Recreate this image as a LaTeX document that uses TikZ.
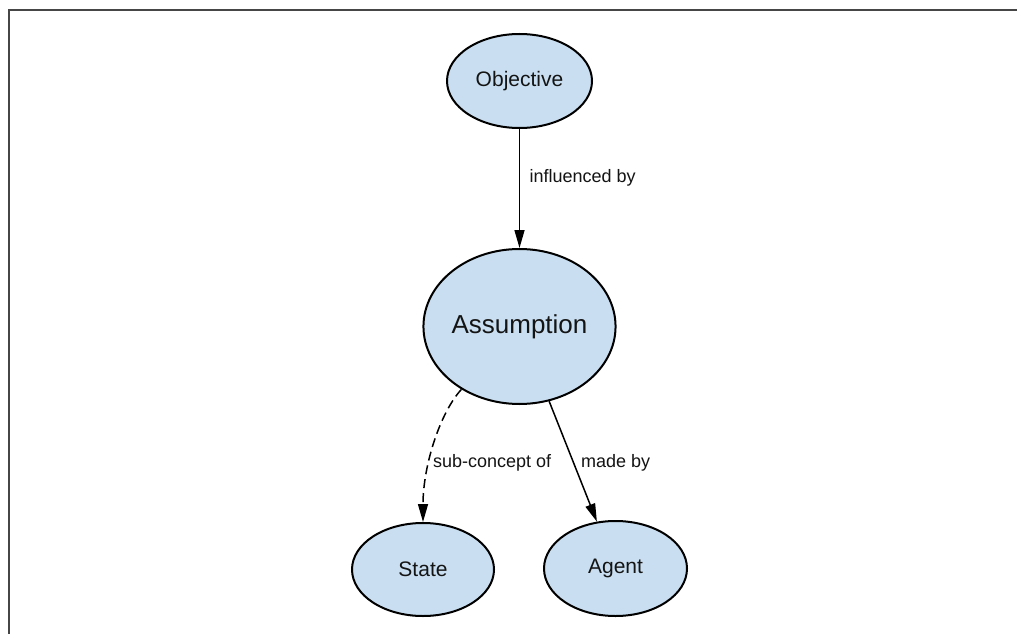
\documentclass[tikz,border=0pt]{standalone}
\usepackage{fontspec}
\setmainfont{Liberation Sans}
\usetikzlibrary{shapes.geometric,arrows.meta}
\definecolor{nodefill}{RGB}{201,223,241}
\definecolor{framecol}{RGB}{70,70,70}
\definecolor{inkcol}{RGB}{20,20,20}
\tikzset{
  concept/.style={ellipse, draw=black, line width=2pt, fill=nodefill, inner sep=0pt, text=inkcol},
  rel/.style={draw=black, line width=1.5pt, -{Triangle[length=18pt,width=10pt]}},
  rellabel/.style={anchor=west, inner sep=0pt, text=inkcol, font=\fontsize{18}{20}\selectfont},
}
\begin{document}
\begin{tikzpicture}[x=1pt,y=-1pt]
\useasboundingbox (0,0) rectangle (1017,634);
\fill[white] (0,0) rectangle (1017,634);
\draw[framecol, line width=2pt] (9,634) -- (9,10.5) -- (1017,10.5);

\node[concept, minimum width=145pt, minimum height=94pt, font=\fontsize{21}{24}\selectfont] (O) at (519.5,81) {Objective};
\node[concept, minimum width=189pt, minimum height=155pt, font=\fontsize{26}{30}\selectfont] (A) at (519.5,326.5) {Assumption};
\node[concept, minimum width=142pt, minimum height=93pt, font=\fontsize{21}{24}\selectfont] (S) at (423,569.5) {State};
\node[concept, minimum width=143pt, minimum height=95pt, font=\fontsize{21}{24}\selectfont] (G) at (615.5,568.5) {Agent};

\draw[rel] (O) -- (A);
\draw[rel] (A) -- (G);
\draw[rel, dash pattern=on 9pt off 5pt] (A) .. controls (440.5,412) and (423,465) .. (S);

\node[rellabel] (l1) at (529.5,178) {influenced by};
\node[rellabel] (l2) at (433,463) {sub-concept of};
\node[rellabel] (l3) at (581,463) {made by};
\end{tikzpicture}
\end{document}
